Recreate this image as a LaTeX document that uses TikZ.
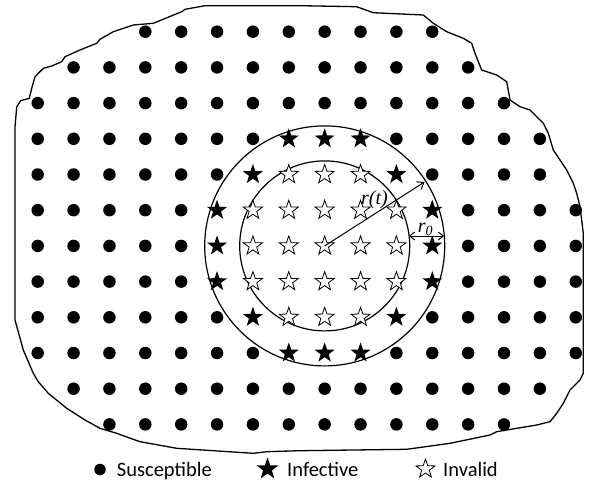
\documentclass[tikz,border=0pt]{standalone}
\usepackage{fontspec}
\setmainfont{Liberation Serif}
\newfontfamily\legfont{Carlito}
\usetikzlibrary{shapes.geometric,arrows.meta}
\tikzset{
  sdot/.style={circle,fill=black,inner sep=0pt,minimum size=12.5pt},
  infstar/.style={star,star points=5,star point ratio=2.5,fill=black,inner sep=0pt,minimum size=21pt},
  invstar/.style={star,star points=5,star point ratio=2.5,draw=black,fill=white,line width=0.8pt,inner sep=0pt,minimum size=20pt},
  ring/.style={draw=black,line width=1.2pt},
  border/.style={draw=black,line width=1.3pt,line join=round},
  barb/.style={line width=1pt,-{Straight Barb[length=6pt,width=9pt]}},
  dbarb/.style={line width=1pt,{Straight Barb[length=5pt,width=8pt]}-{Straight Barb[length=5pt,width=8pt]}},
  legtext/.style={anchor=base west,inner sep=0pt,font=\legfont\fontsize{20.5}{24}\selectfont}
}
\newcommand\mrow[4]{\foreach \col in {#3,...,#4}{\node[#2] (m-#1-\col) at ({37.7+35.87*\col},{31.7+35.7*#1}) {};}}
\begin{document}
\begin{tikzpicture}[x=1pt,y=-1pt]
\useasboundingbox (0,0) rectangle (590,483);
% outer boundary
\draw[border] (205,5.7) -- (300,5.7) -- (356.7,6.7) -- (373.3,12.7) -- (423.3,15) -- (433.3,23.3) -- (446.7,31.7) -- (463.3,38.3) -- (471.7,43.3) -- (475,53.3) -- (481.7,70) -- (496.7,75) -- (506.7,81.7) -- (510,100) -- (520,106.7) -- (530,110) -- (543.3,123.3) -- (548.3,133.3) -- (553.3,150) -- (560,160) -- (566.7,170) -- (573.3,183.3) -- (576.7,193.3) -- (580,206.7) -- (583.3,233.3) -- (583.3,373.3) -- (580,380) -- (570,390) -- (563.3,403.3) -- (556.7,413.3) -- (550,421.7) -- (536.7,425) -- (516.7,428.3) -- (496.7,431.7) -- (490,435) -- (450,443.3) -- (406.7,449.3) -- (300,450.7) -- (266.7,451.7) -- (253.3,453.3) -- (176.7,448.3) -- (140,441.7) -- (116.7,433.3) -- (100,428.3) -- (85,420) -- (66.7,408.3) -- (48.3,393.3) -- (38.3,381.7) -- (33.3,373.3) -- (23.3,350) -- (15,320) -- (15,127) -- (16.7,107) -- (20.7,100.7) -- (29.3,98.3) -- (31.7,88.3) -- (35,76.7) -- (43.3,68.3) -- (51.7,66) -- (61.7,61.7) -- (65,56.7) -- (80,50) -- (96.7,43.3) -- (100,39.3) -- (113.3,31.7) -- (133.3,25) -- (153.3,23.3) -- (181.7,11.7) -- (185,9.3) -- cycle;
% rings
\coordinate (ctr) at (324.7,245.9);
\draw[ring] (ctr) circle[radius=120];
\draw[ring] (ctr) circle[radius=85];
% grid
\mrow{0}{sdot}{3}{11}
\mrow{1}{sdot}{1}{12}
\mrow{2}{sdot}{0}{13}
\mrow{3}{sdot}{0}{6}\mrow{3}{infstar}{7}{9}\mrow{3}{sdot}{10}{14}
\mrow{4}{sdot}{0}{5}\mrow{4}{infstar}{6}{6}\mrow{4}{invstar}{7}{9}\mrow{4}{infstar}{10}{10}\mrow{4}{sdot}{11}{14}
\foreach \rr in {5,6,7}{\mrow{\rr}{sdot}{0}{4}\mrow{\rr}{infstar}{5}{5}\mrow{\rr}{invstar}{6}{10}\mrow{\rr}{infstar}{11}{11}\mrow{\rr}{sdot}{12}{15}}
\mrow{8}{sdot}{0}{5}\mrow{8}{infstar}{6}{6}\mrow{8}{invstar}{7}{9}\mrow{8}{infstar}{10}{10}\mrow{8}{sdot}{11}{15}
\mrow{9}{sdot}{0}{6}\mrow{9}{infstar}{7}{9}\mrow{9}{sdot}{10}{15}
\mrow{10}{sdot}{1}{14}
\mrow{11}{sdot}{2}{13}
% radii
\coordinate (rtend) at (424.5,182);
\draw[barb] (ctr) -- (rtend);
\node[inner sep=0pt,font=\fontsize{20}{24}\selectfont\itshape] (rtlab) at (374.5,200) {r(t)};
\coordinate (rin) at (408.9,236);
\coordinate (rout) at (444.1,236);
\draw[dbarb] (rin) -- (rout);
\node[inner sep=0pt,font=\fontsize{20}{24}\selectfont\itshape] (r0lab) at (425.5,229) {r\textsubscript{0}};
% legend
\node[sdot,minimum size=11.5pt] (lg1) at (100,469.5) {};
\node[legtext] (lt1) at (116.7,476.5) {Susceptible};
\node[infstar,minimum size=23pt] (lg2) at (267.5,469) {};
\node[legtext] (lt2) at (287,476.5) {Infective};
\node[invstar,minimum size=20pt] (lg3) at (425.5,469) {};
\node[legtext] (lt3) at (443,476.5) {Invalid};
\end{tikzpicture}
\end{document}
